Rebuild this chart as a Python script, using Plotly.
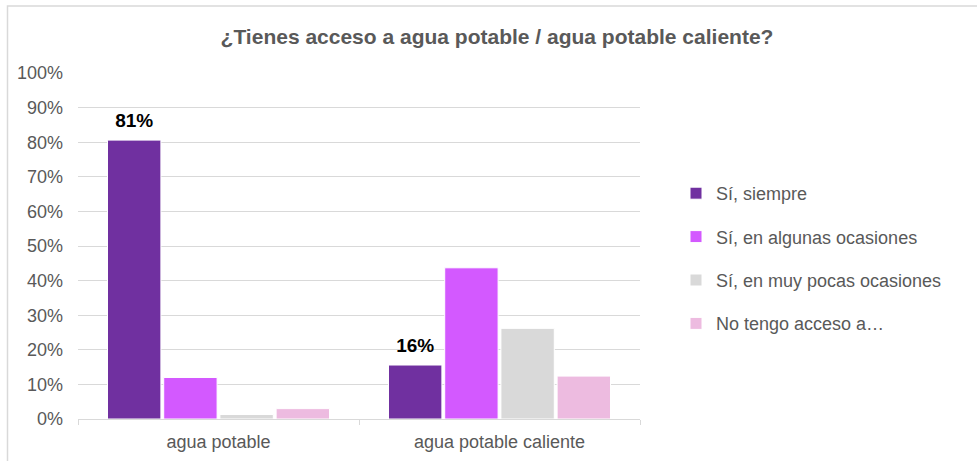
import plotly.graph_objects as go

categories = ["agua potable", "agua potable caliente"]
series_names = ["Sí, siempre", "Sí, en algunas ocasiones", "Sí, en muy pocas ocasiones", "No tengo acceso a…"]
siempre = [0.806, 0.156]
algunas = [0.12, 0.437]
muy_pocas = [0.013, 0.262]
no_tengo = [0.03, 0.124]
colors = ["#7030A0", "#D359FF", "#D9D9D9", "#EDBBE0"]
y_ticks = [i / 10 for i in range(11)]

FONT = "Liberation Sans, Arial, sans-serif"
GRAY = "#595959"

fig = go.Figure()
for i, (name, vals) in enumerate(zip(series_names, [siempre, algunas, muy_pocas, no_tengo])):
    kw = {}
    if i == 0:
        kw = dict(texttemplate="<span style='font-size:19px'><b>%{y:.0%}</b></span><br> ",
                  textposition="outside",
                  textfont=dict(family=FONT, size=7, color="#000000"), cliponaxis=False)
    fig.add_trace(go.Bar(x=categories, y=vals, name=name, legendgroup=f"g{i}",
                         marker=dict(color=colors[i], line=dict(color="#FFFFFF", width=1)),
                         hoverinfo="skip", **kw))

W, H = 977, 461
L, R, T, B = 78, 337, 73, 42
pw, ph = W - L - R, H - T - B

def px(x):
    return (x - L) / pw

def py(y):
    return (H - B - y) / ph

fig.update_layout(
    width=W, height=H,
    margin=dict(l=L, r=R, t=T, b=B, autoexpand=False),
    paper_bgcolor="white", plot_bgcolor="white",
    barmode="group", bargap=0.2, bargroupgap=0.05,
    title=dict(text="<b>¿Tienes acceso a agua potable / agua potable caliente?</b>",
               x=px(497), xref="paper", xanchor="center", y=1 - 37 / H, yanchor="middle",
               font=dict(family=FONT, size=21, color=GRAY)),
    legend=dict(x=px(676), y=py(175), xanchor="left", yanchor="top",
                font=dict(family=FONT, size=18, color=GRAY),
                traceorder="grouped", tracegroupgap=17, itemwidth=30,
                bgcolor="rgba(0,0,0,0)"),
    showlegend=True,
    font=dict(family=FONT, color=GRAY),
    shapes=[dict(type="rect", xref="paper", yref="paper",
                 x0=px(7.5), x1=px(990), y0=py(470), y1=py(6),
                 line=dict(color="#D9D9D9", width=1.5), fillcolor="rgba(0,0,0,0)", layer="below")],
)
fig.update_yaxes(range=[0, 1], tickvals=y_ticks, tickformat=".0%", automargin=False,
                 showgrid=True, gridcolor="#D9D9D9", gridwidth=1,
                 zeroline=False, showline=False, ticklabelstandoff=14,
                 tickfont=dict(family=FONT, size=18, color=GRAY), ticklen=0)
fig.update_xaxes(showline=True, linecolor="#D9D9D9", linewidth=1, automargin=False,
                 ticks="outside", tickson="boundaries", ticklen=5, tickcolor="#D9D9D9",
                 ticklabelstandoff=6,
                 tickfont=dict(family=FONT, size=18, color=GRAY))

fig.write_html("out.html", config={"displayModeBar": False},
               post_script="document.body.style.margin='0';")
